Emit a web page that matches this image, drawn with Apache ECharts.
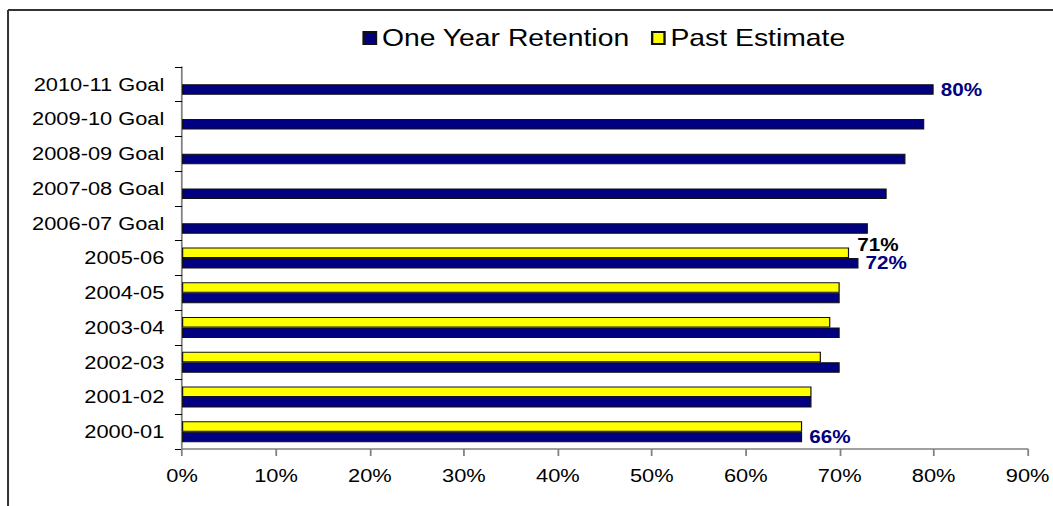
<!DOCTYPE html>
<html>
<head>
<meta charset="utf-8">
<script src="https://cdn.jsdelivr.net/npm/echarts@6/dist/echarts.min.js"></script>
<style>
  html, body { margin: 0; padding: 0; background: #fff; overflow: hidden; }
  /* the chart is laid out narrow and widened to the page, giving the broad lettering */
  #chart { width: 892px; height: 506px; transform: scaleX(1.1805); transform-origin: 0 0; }
</style>
</head>
<body>
<div id="chart"></div>
<script>
const categories = ['2000-01', '2001-02', '2002-03', '2003-04', '2004-05', '2005-06',
  '2006-07 Goal', '2007-08 Goal', '2008-09 Goal', '2009-10 Goal', '2010-11 Goal'];
const retention = [66, 67, 70, 70, 70, 72, 73, 75, 77, 79, 80];
const pastEstimate = [66, 67, 68, 69, 70, 71, null, null, null, null, null];
const retentionLabelled = ['2000-01', '2005-06', '2010-11 Goal'];
const pastLabelled = ['2005-06'];
const axisMax = 90;
const axisStep = 10;

const FONT = "'Liberation Sans', Arial, sans-serif";
const NAVY = '#000080';
const YELLOW = '#FFFF00';

function withLabels(values, labelled, labelStyle) {
  return values.map((v, i) => {
    if (v === null) return '-';
    if (labelled.indexOf(categories[i]) >= 0) {
      return { value: v, label: Object.assign({ show: true }, labelStyle) };
    }
    return v;
  });
}

const chart = echarts.init(document.getElementById('chart'), null, { renderer: 'svg' });

chart.setOption({
  backgroundColor: '#fff',
  animation: false,
  textStyle: { fontFamily: FONT },
  legend: {
    data: ['One Year Retention', 'Past Estimate'],
    left: 302,
    top: 21,
    itemWidth: 10.5,
    itemHeight: 12,
    itemGap: 18,
    icon: 'rect',
    textStyle: { fontSize: 24, color: '#000', fontFamily: FONT }
  },
  grid: { left: 154.2, right: 21.2, top: 67, bottom: 57, containLabel: false },
  xAxis: {
    type: 'value',
    min: 0,
    max: axisMax,
    interval: axisStep,
    axisLine: { show: true, lineStyle: { color: '#808080', width: 1.5 } },
    axisTick: { show: true, length: 7, lineStyle: { color: '#808080', width: 1.5 } },
    splitLine: { show: false },
    axisLabel: { formatter: '{value}%', fontSize: 18.5, color: '#000', margin: 17, fontFamily: FONT }
  },
  yAxis: {
    type: 'category',
    data: categories,
    axisLine: { show: true, lineStyle: { color: '#808080', width: 1.5 } },
    axisTick: { show: true, length: 6, lineStyle: { color: '#000', width: 1 } },
    axisLabel: { fontSize: 18.5, color: '#000', margin: 15, fontFamily: FONT }
  },
  series: [
    {
      // listed first so its bar sits in the upper slot of each row
      name: 'Past Estimate',
      type: 'bar',
      barWidth: 10.5,
      barGap: '0%',
      itemStyle: { color: YELLOW, borderColor: '#111', borderWidth: 1 },
      label: { show: false },
      data: withLabels(pastEstimate, pastLabelled, {
        position: 'right', distance: 7, offset: [0, -8], formatter: '{c}%',
        color: '#000', fontWeight: 'bold', fontSize: 17.5, fontFamily: FONT
      })
    },
    {
      name: 'One Year Retention',
      type: 'bar',
      barWidth: 10.5,
      barGap: '0%',
      itemStyle: { color: NAVY, borderColor: '#111', borderWidth: 1 },
      label: { show: false },
      data: withLabels(retention, retentionLabelled, {
        position: 'right', distance: 6, formatter: '{c}%',
        color: NAVY, fontWeight: 'bold', fontSize: 17.5, fontFamily: FONT
      })
    }
  ],
  graphic: [
    { type: 'line', shape: { x1: 6.8, y1: 10, x2: 892, y2: 10 }, style: { stroke: '#333', lineWidth: 2 } },
    { type: 'line', shape: { x1: 6.8, y1: 10, x2: 6.8, y2: 506 }, style: { stroke: '#333', lineWidth: 1.7 } }
  ]
});
</script>
</body>
</html>
